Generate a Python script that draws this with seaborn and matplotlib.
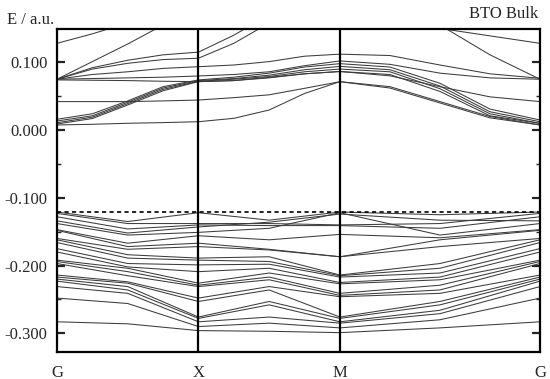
import numpy as np
import pandas as pd
import matplotlib
matplotlib.use('Agg')
import matplotlib.pyplot as plt
import seaborn as sns

r2 = np.sqrt(2)
# k path G - X - M - G; conduction bands read at quarter points, valence at half points
k_cond = [0.0, 0.25, 0.5, 0.75, 1.0, 1.25, 1.5, 1.75, 2.0,
          2.0 + r2 / 4, 2.0 + r2 / 2, 2.0 + 3 * r2 / 4, 2.0 + r2]
k_val = [0.0, 0.5, 1.0, 1.5, 2.0, 2.0 + r2 / 2, 2.0 + r2]
kticks = [0.0, 1.0, 2.0, 2.0 + r2]
klabels = ['G', 'X', 'M', 'G']

# conduction bands, one row per band (values above 0.149 run off the top)
conduction = [
    [0.128, 0.142, 0.158, 0.185, 0.210, 0.230, 0.240, 0.250, 0.250, 0.200, 0.150, 0.139, 0.128],
    [0.075, 0.101, 0.127, 0.155, 0.190, 0.220, 0.240, 0.250, 0.250, 0.200, 0.155, 0.111, 0.075],
    [0.075, 0.092, 0.103, 0.111, 0.115, 0.140, 0.170, 0.200, 0.250, 0.250, 0.220, 0.210, 0.200],
    [0.075, 0.090, 0.0985, 0.104, 0.106, 0.128, 0.158, 0.200, 0.250, 0.250, 0.220, 0.210, 0.200],
    [0.075, 0.082, 0.086, 0.091, 0.0935, 0.096, 0.101, 0.109, 0.112, 0.110, 0.096, 0.083, 0.0764],
    [0.075, 0.076, 0.077, 0.078, 0.0798, 0.082, 0.086, 0.095, 0.102, 0.097, 0.084, 0.077, 0.075],
    [0.074, 0.0735, 0.073, 0.072, 0.0714, 0.073, 0.078, 0.083, 0.0864, 0.080, 0.064, 0.049, 0.042],
    [0.0159, 0.024, 0.043, 0.064, 0.074, 0.078, 0.084, 0.093, 0.098, 0.093, 0.069, 0.031, 0.0148],
    [0.0134, 0.021, 0.041, 0.062, 0.073, 0.076, 0.081, 0.089, 0.094, 0.089, 0.065, 0.027, 0.0123],
    [0.0108, 0.019, 0.039, 0.060, 0.072, 0.075, 0.079, 0.086, 0.090, 0.086, 0.061, 0.024, 0.0099],
    [0.0089, 0.017, 0.037, 0.058, 0.0715, 0.073, 0.077, 0.083, 0.0864, 0.082, 0.057, 0.021, 0.0099],
    [0.042, 0.042, 0.042, 0.043, 0.0443, 0.0478, 0.052, 0.0616, 0.0714, 0.064, 0.042, 0.020, 0.0075],
    [0.0075, 0.0085, 0.010, 0.011, 0.0123, 0.0173, 0.0296, 0.054, 0.0714, 0.062, 0.040, 0.018, 0.0075],
]

# valence bands: entry i of each list belongs to band i
vb_G = [-0.121, -0.123, -0.128, -0.134, -0.138, -0.147, -0.148, -0.160, -0.162, -0.166, -0.175,
        -0.180, -0.192, -0.194, -0.197, -0.214, -0.217, -0.220, -0.223, -0.231, -0.248, -0.283]
vb_GX = [-0.135, -0.138, -0.146, -0.152, -0.155, -0.167, -0.172, -0.176, -0.184, -0.189, -0.197,
         -0.202, -0.204, -0.209, -0.215, -0.224, -0.226, -0.231, -0.236, -0.241, -0.256, -0.286]
vb_X = [-0.122, -0.138, -0.140, -0.143, -0.151, -0.156, -0.167, -0.172, -0.189, -0.192, -0.199,
        -0.209, -0.226, -0.229, -0.231, -0.248, -0.253, -0.276, -0.278, -0.283, -0.290, -0.296]
vb_XM = [-0.133, -0.138, -0.141, -0.136, -0.145, -0.162, -0.176, -0.177, -0.187, -0.194, -0.198,
         -0.204, -0.211, -0.217, -0.221, -0.231, -0.236, -0.253, -0.258, -0.276, -0.285, -0.297]
vb_M = [-0.121, -0.140, -0.141, -0.124, -0.122, -0.154, -0.187, -0.187, -0.214, -0.215, -0.217,
        -0.225, -0.227, -0.241, -0.244, -0.246, -0.276, -0.278, -0.283, -0.285, -0.292, -0.299]
vb_MG = [-0.125, -0.138, -0.145, -0.133, -0.155, -0.159, -0.162, -0.172, -0.197, -0.204, -0.211,
         -0.217, -0.221, -0.229, -0.236, -0.241, -0.253, -0.258, -0.266, -0.271, -0.280, -0.292]

fermi = -0.121

valence = [list(v) for v in zip(vb_G, vb_GX, vb_X, vb_XM, vb_M, vb_MG, vb_G)]

rows = []
for i, band in enumerate(conduction):
    for k, e in zip(k_cond, band):
        rows.append({'band': 'c%d' % i, 'k': k, 'E': e})
for i, band in enumerate(valence):
    for k, e in zip(k_val, band):
        rows.append({'band': 'v%d' % i, 'k': k, 'E': e})
df = pd.DataFrame(rows)

sns.set_style('ticks')
plt.rcParams['font.family'] = ['Liberation Serif', 'DejaVu Serif']
plt.rcParams['axes.unicode_minus'] = False

fig = plt.figure(figsize=(5.5, 3.79), dpi=100)
ax = fig.add_axes([0.1036, 0.0712, 0.8782, 0.8515])

sns.lineplot(data=df, x='k', y='E', units='band', estimator=None, color='#3c3c3c',
             linewidth=0.75, ax=ax, legend=False)

for k in kticks[1:3]:
    ax.axvline(k, color='black', linewidth=1.6)
ax.axhline(fermi, color='black', linewidth=1.2, linestyle=(0, (2.5, 2.0)))

ax.set_xlim(kticks[0], kticks[-1])
ax.set_ylim(-0.3276, 0.1487)
ax.set_xticks(kticks)
ax.set_xticklabels(klabels)
ax.set_yticks([0.1, 0.0, -0.1, -0.2, -0.3])
ax.set_yticks([0.05, -0.05, -0.15, -0.25], minor=True)
ax.yaxis.set_major_formatter(matplotlib.ticker.FormatStrFormatter('%.3f'))
ax.tick_params(axis='x', length=0, pad=9, labelsize=12)
ax.tick_params(axis='y', which='major', direction='in', length=6, width=1.6,
               left=True, right=True, labelsize=12, pad=7)
ax.tick_params(axis='y', which='minor', direction='in', length=3, width=1.0,
               left=True, right=True)
ax.set_xlabel('')
ax.set_ylabel('')
for s in ax.spines.values():
    s.set_visible(True)
    s.set_linewidth(1.6)
    s.set_color('black')

fig.text(7 / 550, 1 - 20 / 379, 'E / a.u.', fontsize=12, ha='left', va='center')
fig.text(538 / 550, 1 - 14 / 379, 'BTO Bulk', fontsize=12, ha='right', va='center')

fig.savefig('out.png', dpi=100)
